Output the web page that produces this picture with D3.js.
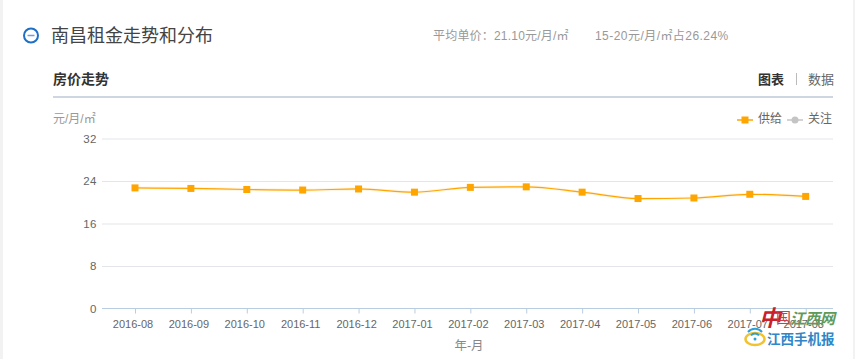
<!DOCTYPE html>
<html>
<head>
<meta charset="utf-8">
<script src="https://cdnjs.cloudflare.com/ajax/libs/d3/7.8.5/d3.min.js"></script>
<style>
html, body { margin: 0; padding: 0; background: #fff; }
svg { display: block; }
text { font-family: "Liberation Sans", "Noto Sans CJK SC", sans-serif; }
</style>
</head>
<body>
<div class="canvas"></div>
<script>
const months = ['2016-08', '2016-09', '2016-10', '2016-11', '2016-12', '2017-01', '2017-02',
    '2017-03', '2017-04', '2017-05', '2017-06', '2017-07', '2017-08'];
const supply = [22.7, 22.6, 22.4, 22.3, 22.5, 21.9, 22.8, 22.9, 21.9, 20.7, 20.8, 21.5, 21.1];
const yTicks = [0, 8, 16, 24, 32];

const svg = d3.select('.canvas')
    .append('svg')
        .attr('width', 855)
        .attr('height', 359);

// page gutters either side of the white card
svg.append('rect').attr('x', 0).attr('y', 0).attr('width', 3).attr('height', 359).attr('fill', '#f2f2f2');
svg.append('rect').attr('x', 853).attr('y', 0).attr('width', 2).attr('height', 359).attr('fill', '#f2f2f2');

// header
const icon = svg.append('g');
icon.append('circle').attr('cx', 31).attr('cy', 35.5).attr('r', 7)
    .attr('fill', 'none').attr('stroke', '#1e6fc8').attr('stroke-width', 2);
icon.append('line').attr('x1', 27.5).attr('x2', 34.5).attr('y1', 35.5).attr('y2', 35.5)
    .attr('stroke', '#6f9fd8').attr('stroke-width', 1.5);

const label = (x, y, str, size, fill, anchor = 'start', weight = 'normal') => svg.append('text')
    .attr('x', x).attr('y', y).attr('font-size', size).attr('fill', fill)
    .attr('text-anchor', anchor).attr('font-weight', weight).text(str);

label(51, 42, '南昌租金走势和分布', 18, '#444');
label(433, 40, '平均单价：21.10元/月/㎡', 12, '#999').attr('letter-spacing', 0.2);
label(595, 40, '15-20元/月/㎡占26.24%', 12, '#999').attr('letter-spacing', 0.45);
label(53, 84, '房价走势', 14, '#333', 'start', 'bold');
label(758, 84, '图表', 13, '#333', 'start', 'bold');
label(808, 84, '数据', 13, '#666');
svg.append('line').attr('x1', 796.5).attr('x2', 796.5).attr('y1', 73).attr('y2', 85).attr('stroke', '#bbb');
svg.append('rect').attr('x', 53).attr('y', 96).attr('width', 780).attr('height', 2).attr('fill', '#d0d5e2');
label(53, 123, '元/月/㎡', 12, '#999');

// legend
const legend = svg.append('g');
legend.append('line').attr('x1', 737).attr('x2', 753).attr('y1', 120).attr('y2', 120)
    .attr('stroke', '#ffa500').attr('stroke-width', 1.5);
legend.append('rect').attr('x', 741.5).attr('y', 116.5).attr('width', 7).attr('height', 7).attr('fill', '#ffa500');
label(758, 123, '供给', 12, '#666');
legend.append('line').attr('x1', 787).attr('x2', 803).attr('y1', 120).attr('y2', 120)
    .attr('stroke', '#c4c4c4').attr('stroke-width', 1.5);
legend.append('circle').attr('cx', 795).attr('cy', 120).attr('r', 3.5).attr('fill', '#c4c4c4');
label(808, 123, '关注', 12, '#666');

// scales
const y = d3.scaleLinear().domain([0, 32]).range([308.5, 138.5]);
const x = d3.scalePoint().domain(months).range([135, 805.7]);

// grid lines
const grid = svg.append('g').attr('transform', 'translate(102, 0)')
    .call(d3.axisLeft(y).tickValues(yTicks.filter(d => d > 0)).tickSize(-731).tickFormat(''));
grid.select('.domain').remove();
grid.selectAll('line').attr('stroke', '#e3e5ea');

// y labels
const yAxis = svg.append('g').attr('transform', 'translate(97, 0)')
    .call(d3.axisLeft(y).tickValues(yTicks).tickSize(0).tickPadding(0));
yAxis.select('.domain').remove();
yAxis.selectAll('text').attr('font-size', 11.5).attr('fill', '#666').attr('letter-spacing', 0.5)
    .attr('font-family', '"Liberation Sans", sans-serif');

// x axis
const xAxis = svg.append('g').attr('transform', 'translate(0, 308.5)')
    .call(d3.axisBottom(x).tickSize(5).tickPadding(6.5));
xAxis.select('.domain').attr('d', 'M102,0H833').attr('stroke', '#b9cde0');
xAxis.selectAll('line').attr('stroke', '#b9cde0');
xAxis.selectAll('text').attr('font-size', 11).attr('fill', '#666').attr('dx', -2.5)
    .attr('font-family', '"Liberation Sans", sans-serif');
label(469, 350, '年-月', 12.5, '#888', 'middle');

// supply line, with the soft halo under it
const line = d3.line()
    .x((d, i) => x(months[i]))
    .y(d => y(d))
    .curve(d3.curveMonotoneX);

svg.append('path').attr('d', line(supply)).attr('fill', 'none')
    .attr('stroke', '#ffa500').attr('stroke-opacity', 0.12).attr('stroke-width', 3);
svg.append('path').attr('d', line(supply)).attr('fill', 'none')
    .attr('stroke', '#ffa500').attr('stroke-width', 1.2);

svg.selectAll('rect.pt')
    .data(supply)
    .enter()
    .append('rect')
        .attr('class', 'pt')
        .attr('x', (d, i) => x(months[i]) - 3.5)
        .attr('y', d => y(d) - 3.5)
        .attr('width', 7)
        .attr('height', 7)
        .attr('fill', '#ffa500');

// watermark over the bottom right corner
const mark = svg.append('g');
mark.append('ellipse').attr('cx', 755).attr('cy', 339).attr('rx', 9.5).attr('ry', 6)
    .attr('fill', '#fff').attr('stroke', '#f2c230').attr('stroke-width', 2.5);
mark.append('path').attr('d', 'M748,332a9,9 0 0 1 14,0M751,335.5a5,5 0 0 1 8,0')
    .attr('fill', 'none').attr('stroke', '#2f9fd8').attr('stroke-width', 2);
mark.append('circle').attr('cx', 755).attr('cy', 339).attr('r', 1.5).attr('fill', '#2f9fd8');
label(759, 326, '中', 22, '#c8202c', 'start', 'bold').attr('font-style', 'italic');
label(776, 323, '国', 15, '#c84050');
label(790, 324, '江西网', 15, '#5f9a5a', 'start', 'bold').attr('font-style', 'italic');
label(767, 344, '江西手机报', 13.5, '#2f86c8', 'start', 'bold');
</script>
</body>
</html>
